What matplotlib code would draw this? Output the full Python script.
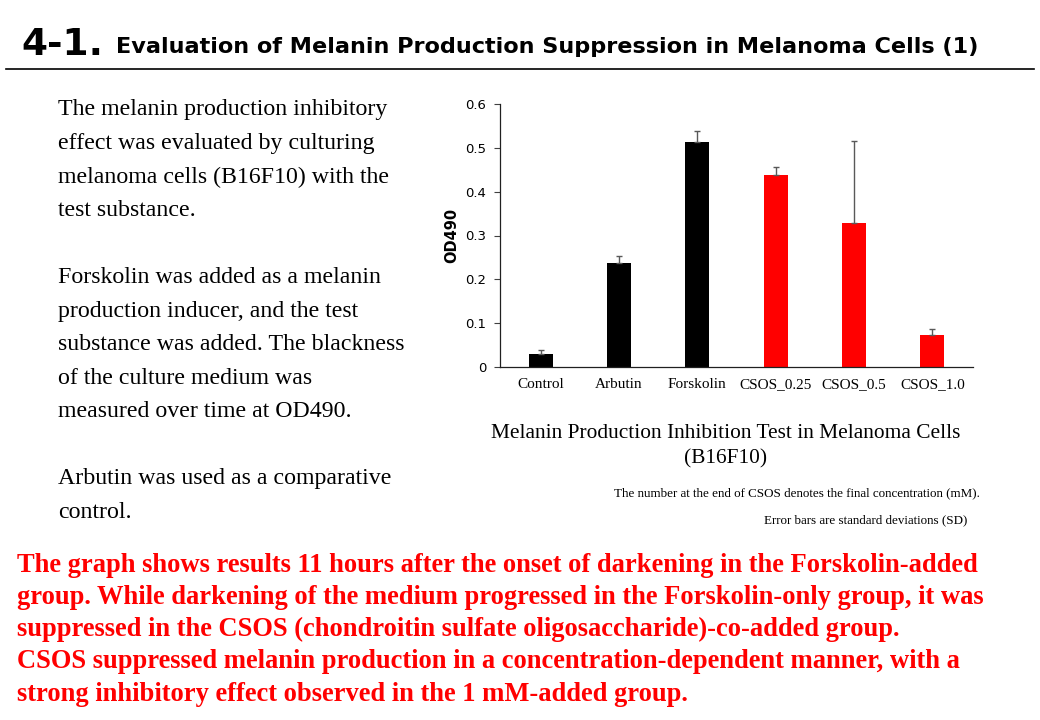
import matplotlib.pyplot as plt

# Data
groups = ['Control', 'Arbutin', 'Forskolin', 'CSOS_0.25', 'CSOS_0.5', 'CSOS_1.0']
od490 = [0.030, 0.238, 0.514, 0.439, 0.329, 0.072]
sd = [0.009, 0.015, 0.024, 0.017, 0.187, 0.015]
bar_colors = ['black', 'black', 'black', '#ff0000', '#ff0000', '#ff0000']
y_ticks = [0, 0.1, 0.2, 0.3, 0.4, 0.5, 0.6]
y_tick_labels = ['0', '0.1', '0.2', '0.3', '0.4', '0.5', '0.6']

left_text = [
    'The melanin production inhibitory',
    'effect was evaluated by culturing',
    'melanoma cells (B16F10) with the',
    'test substance.',
    '',
    'Forskolin was added as a melanin',
    'production inducer, and the test',
    'substance was added. The blackness',
    'of the culture medium was',
    'measured over time at OD490.',
    '',
    'Arbutin was used as a comparative',
    'control.',
]
red_text = [
    'The graph shows results 11 hours after the onset of darkening in the Forskolin-added',
    'group. While darkening of the medium progressed in the Forskolin-only group, it was',
    'suppressed in the CSOS (chondroitin sulfate oligosaccharide)-co-added group.',
    'CSOS suppressed melanin production in a concentration-dependent manner, with a',
    'strong inhibitory effect observed in the 1 mM-added group.',
]

W, H = 1040, 720
fig = plt.figure(figsize=(W / 100, H / 100), dpi=100)
serif = 'Liberation Serif'


def fx(px):
    return px / W


def fy(py):
    return 1 - py / H


# Slide title and rule
fig.text(fx(21), fy(45), '4-1.', fontsize=27, fontweight='bold',
         family='DejaVu Sans', va='center', ha='left')
fig.text(fx(116), fy(47), 'Evaluation of Melanin Production Suppression in Melanoma Cells (1)',
         fontsize=16.1, fontweight='bold', family='DejaVu Sans', va='center', ha='left')
fig.add_artist(plt.Line2D([fx(6), fx(1034)], [fy(69), fy(69)], color='black', lw=1.2))

# Left paragraph
for i, line in enumerate(left_text):
    fig.text(fx(58), fy(110 + i * 33.5), line, fontsize=17.2, family=serif,
             va='center', ha='left')

# Red summary
for i, line in enumerate(red_text):
    fig.text(fx(17), fy(565 + i * 32.3), line, fontsize=19.1, family=serif,
             fontweight='bold', color='#ff0000', va='center', ha='left')

# Bar chart
ax = fig.add_axes([fx(500), fy(367), fx(973 - 500), (367 - 104) / H])
x = range(len(groups))
ax.bar(x, od490, width=0.31, color=bar_colors, zorder=2)
ax.errorbar(x, od490, yerr=[[0] * len(sd), sd], fmt='none', ecolor='#595959',
            elinewidth=1, capsize=2.5, capthick=1, zorder=3)
ax.set_xlim(-0.52, len(groups) - 0.48)
ax.set_ylim(0, 0.6)
ax.set_yticks(y_ticks)
ax.set_yticklabels(y_tick_labels, fontsize=9.5, family='DejaVu Sans')
ax.set_xticks(list(x))
ax.set_xticklabels(groups, fontsize=11, family=serif)
ax.tick_params(axis='x', length=0, pad=8)
ax.tick_params(axis='y', length=4, width=0.8, color='#404040', pad=6)
for side in ['top', 'right']:
    ax.spines[side].set_visible(False)
for side in ['left', 'bottom']:
    ax.spines[side].set_color('#202020')
    ax.spines[side].set_linewidth(0.9)
ax.set_ylabel('OD490', fontsize=10.5, fontweight='bold', family='DejaVu Sans', labelpad=4)

# Chart caption and notes
fig.text(fx(726), fy(434), 'Melanin Production Inhibition Test in Melanoma Cells',
         fontsize=15.4, family=serif, ha='center', va='center')
fig.text(fx(726), fy(459), '(B16F10)', fontsize=15.4, family=serif, ha='center', va='center')
fig.text(fx(980), fy(493), 'The number at the end of CSOS denotes the final concentration (mM).',
         fontsize=9.4, family=serif, ha='right', va='center')
fig.text(fx(967), fy(520), 'Error bars are standard deviations (SD)',
         fontsize=9.4, family=serif, ha='right', va='center')

fig.savefig('out.png', dpi=100)
